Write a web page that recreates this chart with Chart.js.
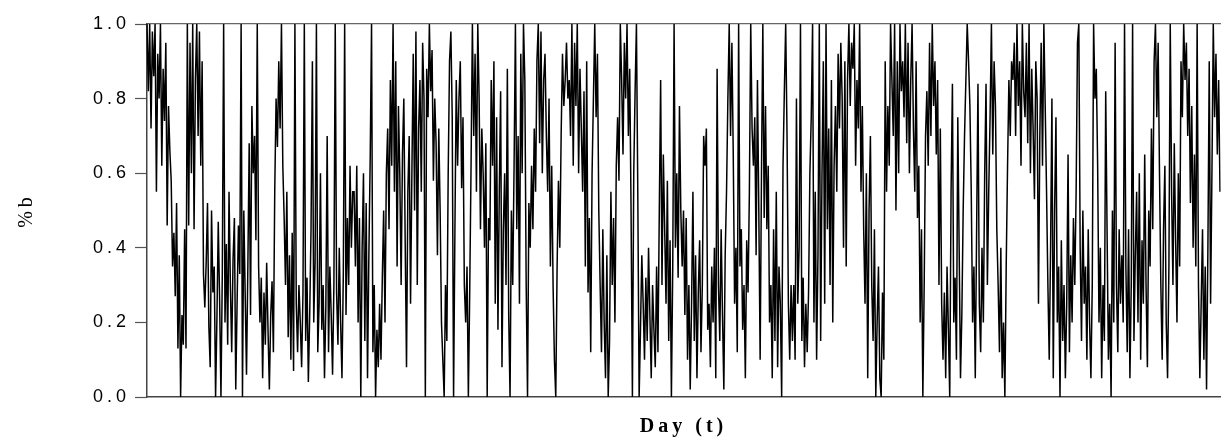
<!DOCTYPE html>
<html>
<head>
<meta charset="utf-8">
<script src="https://cdn.jsdelivr.net/npm/chart.js@4.4.1/dist/chart.umd.min.js"></script>
<style>
  html, body { margin: 0; padding: 0; background: #fff; }
  canvas { display: block; }
</style>
</head>
<body>
<canvas id="pctChart" width="1221" height="441"></canvas>
<script>
// %b values, left to right (clipped to 0..1)
const pctB = [
  // x 147-252
  1, 0.82, 1, 0.72, 0.98, 0.86, 1, 0.55, 0.92, 0.8, 1, 0.62, 0.88, 0.74, 0.95, 0.46, 0.78, 0.66,
  0.58, 0.35, 0.44, 0.27, 0.52, 0.13, 0.38, 0, 0.22, 0.14, 0.45, 0.13, 1,
  0.46, 0.95, 0.6, 1, 0.45, 0.85, 1, 0.7, 0.98, 0.62, 0.9, 0.33,
  0.24, 0.36, 0.52, 0.19, 0.08, 0.5, 0.28, 0.35, 0, 0.21, 0.47, 0.26, 0, 0.33, 1, 0.2, 0.41, 0.14,
  0.55, 0.3, 0.12, 0.37, 0.48, 0.02, 0.25, 0.46, 0.33, 1, 0, 0.5, 0.28, 0.06, 0.35, 0.68, 0.22,
  // x 252-360
  0.78, 0.6, 0.7, 0.42, 1, 0.35, 0.2, 0.32, 0.05, 0.28, 0.14, 0.36, 0.18, 0.02, 0.22, 0.31, 0.12,
  0.55, 0.8, 0.67, 0.9, 0.72, 1, 0.62, 0.48, 0.3, 0.55, 0.16, 0.38, 0.1, 0.44, 0.07, 1, 0.25, 0.12,
  0.3, 0.2, 0.08, 0.28, 1, 0.15, 0.32, 0.04, 0.22, 0.45, 0.9, 0.2, 0.36, 1, 0.12, 0.25, 0.6, 0.18,
  0.3, 0.05, 0.24, 0.7, 0.12, 0.35, 0.22, 0.06, 0.3, 1, 0.28, 0.14, 0.4, 0.2, 0.05, 0.33, 1, 0.22,
  0.48, 0.3, 0.62, 0.4, 0.55,
  // x 360-468
  0.55, 0.35, 0.62, 0.2, 0.48, 0, 0.4, 0.6, 0.15, 0.52, 0.05, 0.38, 0.64, 1, 0.12, 0.3, 0, 0.18,
  0.08, 0.25, 0.1, 0.32, 0.5, 0.2, 0.6, 0.72, 0.45, 0.85, 0.62, 1, 0.55, 0.9, 0.35, 0.78, 0.6, 0.3,
  0.65, 0.8, 0.42, 0.08, 0.55, 0.7, 0.25, 0.6, 0.92, 0.5, 0.98, 0.3, 0.72, 0.85, 0.55, 0.95, 0.8, 0,
  0.88, 0.75, 1, 0.82, 0.93, 0.58, 0.8, 0.68, 0.38, 0.72, 0.5, 0.2, 0.1, 0, 0.3, 0.15, 0.6, 0.9,
  0.98, 0.75, 0, 0.45, 0.85, 0.62,
  // x 468-576
  0.8, 0.9, 0.56, 0.75, 0.3, 0.2, 0.35, 0, 0.28, 0.62, 1, 0.7, 0.92, 0.55, 1, 0.8, 0.45, 0.72, 0.6,
  0.4, 0.68, 0, 0.48, 0.42, 0.85, 0.62, 0.9, 0.25, 0.75, 0.18, 0.55, 0.82, 0.08, 0.45, 0.6, 0.3,
  0.88, 0.22, 0, 0.5, 0.3, 0.62, 1, 0.45, 0.7, 0.25, 0.92, 0.6, 1, 0.85, 0.3, 0, 0.52, 0.4, 0.62,
  0.45, 0.72, 0.55, 0.9, 1, 0.68, 0.98, 0.6, 0.85, 0.92, 0.7, 0.55, 0.8, 0.35, 0.62, 0.3, 0.1, 0,
  0.35, 0.58, 0.4, 0.7, 0.92, 0.78, 0.85, 0.95, 0.8,
  // x 576-684
  0.85, 0.7, 1, 0.62, 0.95, 0.78, 1, 0.6, 0.88, 0.72, 0.55, 0.82, 0.35, 0.9, 0.28, 0.48, 0.12, 0.6,
  0.8, 1, 0.75, 0.92, 0.5, 0.3, 0.12, 0.45, 0.2, 0.05, 0.38, 0, 0.15, 0.55, 0.3, 0.48, 0.2, 0.62,
  0.75, 0.58, 1, 0.85, 0.65, 0.95, 0.8, 1, 0.7, 0.88, 0.5, 0, 0.6, 0.82, 1, 0.55, 0, 0.18, 0.38,
  0.25, 0.1, 0.32, 0.15, 0.4, 0.22, 0.05, 0.3, 0.18, 0.08, 0.35, 0.12, 0.5, 0.85, 0.3, 0.65, 0.45,
  0.25, 0.58, 0.15, 0.42, 0, 0.35, 1, 0.4, 0.6, 0.32, 0.78, 0.5,
  // x 684-792
  0.35, 0.5, 0.22, 0.48, 0.1, 0.3, 0.02, 0.25, 0.55, 0.15, 0.38, 0.05, 0.28, 0.42, 0.12, 0.3, 0.7,
  0.62, 0.72, 0.18, 0.25, 0.08, 0.35, 0.2, 0.4, 0.05, 0.88, 0.3, 0.15, 0.45, 0.22, 0.02, 0.38, 0.55,
  0.8, 1, 0.7, 0.95, 0.65, 0.25, 0.4, 0.12, 1, 0.35, 0.45, 0.18, 0.3, 0.05, 0.42, 0.28, 0.55, 1,
  0.72, 0.62, 0.75, 0.38, 0.85, 0.5, 0.1, 0.6, 1, 0.48, 0.78, 0.45, 0.62, 0.2, 0.3, 0.05, 0.45,
  0.15, 0.55, 0.08, 0.35, 0.25, 0, 0.62, 0.82, 1, 0.7, 0.25, 0.1, 0.3, 0.15,
  // x 792-900
  0.3, 0.1, 0.8, 0.25, 0.4, 1, 0.15, 0.32, 0.08, 0.25, 0.12, 0.28, 0.6, 0.75, 1, 0.2, 0.55, 0.1,
  0.38, 1, 0.15, 0.6, 0.9, 0.25, 1, 0.45, 0.72, 0.3, 0.85, 0.2, 0.62, 0.78, 0.55, 0.92, 0.72, 0.95,
  0.8, 0.4, 0.9, 0.35, 0.85, 1, 0.78, 0.95, 0.88, 1, 0.62, 0.85, 0.72, 1, 0.55, 0.78, 0.45, 0.25,
  0.6, 0.05, 0.5, 0.7, 0.3, 0.15, 0.45, 0, 0.2, 0.35, 0.05, 0, 0.28, 0.1, 0.9, 0.55, 0.78, 0.62, 1,
  0.85, 0.7, 1, 0.5, 0.9, 0.6, 1, 0.82,
  // x 900-1008
  0.9, 0.75, 1, 0.68, 0.95, 0.6, 0.85, 1, 0.72, 0.55, 0.9, 0.48, 0.62, 0.2, 0.45, 0, 0.3, 0.7, 0.82,
  0.62, 0.95, 0.7, 1, 0.78, 0.9, 0.65, 0.85, 0.3, 0.72, 0.25, 0.1, 0.28, 0.05, 0.35, 0.18, 0, 0.55,
  0.84, 0.2, 0.32, 0.1, 0.75, 0.4, 0.05, 0.22, 0.5, 0.7, 0.85, 1, 0.9, 0.78, 0.55, 0.2, 0.35, 0.05,
  0.45, 0.84, 0.25, 0.12, 0.4, 0.2, 0.6, 0.84, 0.3, 0.55, 0.75, 1, 0.65, 0.9, 0.78, 0.45, 0.3, 0.12,
  0.4, 0.05, 0.2, 0, 0.35, 0.62, 0.85, 0.7, 0.9,
  // x 1008-1116
  0.85, 0.95, 0.7, 1, 0.78, 0.9, 0.62, 1, 0.82, 0.75, 0.95, 0.68, 1, 0.6, 0.88, 0.72, 0.53, 0.9, 0.8,
  0.25, 0.7, 0.95, 0.62, 1, 0.78, 0.55, 0.3, 0.1, 0.4, 0.8, 0.05, 0.5, 0.75, 0.2, 0.35, 0, 0.42,
  0.15, 0.3, 0.05, 0.25, 0.65, 0.12, 0.38, 0.2, 0.48, 0.3, 0.55, 0.95, 1, 0.4, 0.15, 0.5, 0.25, 0.35,
  0.1, 0.45, 0.2, 0.05, 0.3, 1, 0.8, 0.88, 0.62, 0.2, 0.4, 0.05, 0.3, 0.15, 0.82, 0.45, 0.1, 0.25, 0,
  0.5, 0.2, 0.95, 0.3, 0.12, 0.45, 0.25, 0.38,
  // x 1116-1220
  0.2, 1, 0.35, 0.12, 0.45, 0.05, 0.3, 1, 0.15, 0.38, 0.55, 0.2, 0.6, 0.1, 0.42, 0.25, 0.65, 0.3,
  0.08, 0.5, 0.35, 0.72, 0.45, 0.9, 1, 0.75, 0.95, 0.6, 0.3, 0.1, 0.45, 0.62, 0.2, 0.05, 0.35, 1,
  0.55, 0.3, 0.68, 0.42, 0.2, 0.6, 0.35, 0.9, 0.75, 1, 0.85, 0.95, 0.7, 0.88, 0.52, 0.78, 0.4, 0.65,
  0.35, 1, 0.3, 0.05, 0.25, 0.45, 0.1, 0.35, 0.02, 0.4, 0.9, 0.25, 0.6, 1, 0.75, 0.92, 0.65, 0.85, 0.55
];

const days = pctB.map((_, i) => i + 1);
const yTicks = [0, 0.2, 0.4, 0.6, 0.8, 1.0];

// the original text is stretched wide, so space the letters out a bit
const spacedText = {
  id: 'spacedText',
  beforeDraw(chart) { chart.ctx.letterSpacing = '4px'; },
  afterDraw(chart) { chart.ctx.letterSpacing = '0px'; }
};

new Chart(document.getElementById('pctChart'), {
  type: 'line',
  data: {
    labels: days,
    datasets: [{
      data: pctB,
      borderColor: '#000',
      borderWidth: 1.5,
      pointRadius: 0,
      tension: 0,
      fill: false
    }]
  },
  options: {
    responsive: false,
    animation: false,
    devicePixelRatio: 1,
    layout: { padding: { top: 24, right: 1, left: 0, bottom: 0 } },
    plugins: {
      legend: { display: false },
      tooltip: { enabled: false }
    },
    scales: {
      x: {
        type: 'category',
        offset: false,
        grid: { drawOnChartArea: false, drawTicks: false },
        border: { display: true, color: '#444', width: 1.5 },
        ticks: { display: false },
        title: {
          display: true,
          text: 'Day (t)',
          color: '#000',
          font: { family: 'Liberation Serif', size: 20, weight: 'bold' },
          padding: { top: 0, bottom: 2 }
        },
        afterFit: (s) => { s.height = 44; }
      },
      x2: {
        type: 'category',
        position: 'top',
        offset: false,
        grid: { drawOnChartArea: false, drawTicks: false },
        border: { display: true, color: '#666', width: 1.2 },
        ticks: { display: false },
        afterFit: (s) => { s.height = 0; }
      },
      y: {
        min: 0,
        max: 1,
        afterBuildTicks: (s) => { s.ticks = yTicks.map(v => ({ value: v })); },
        grid: { drawOnChartArea: false, drawTicks: true, tickLength: 12, color: '#555', tickWidth: 1.2 },
        border: { display: true, color: '#444', width: 1.5 },
        ticks: {
          color: '#000',
          padding: 5,
          font: { family: 'Liberation Sans', size: 18 },
          callback: (v) => Number(v).toFixed(1)
        },
        title: {
          display: true,
          text: '%b',
          color: '#000',
          font: { family: 'Liberation Serif', size: 20 },
          padding: { top: 15, bottom: 0 }
        },
        afterFit: (s) => { s.width = 147; }
      }
    }
  },
  plugins: [spacedText]
});
</script>
</body>
</html>
